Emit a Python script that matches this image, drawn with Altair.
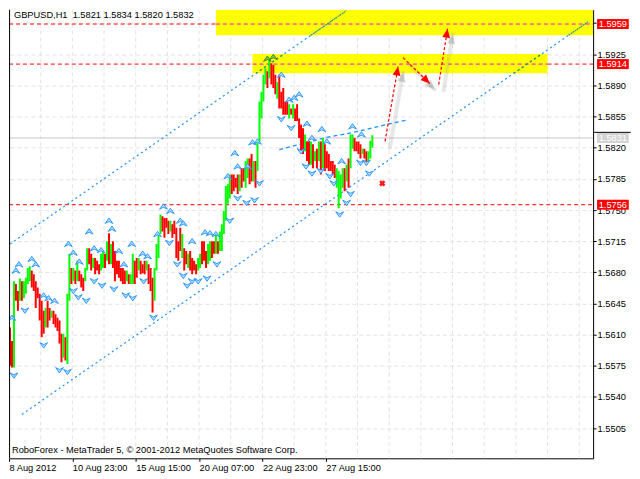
import math
import altair as alt
import pandas as pd

FONT = "Liberation Sans"
FS = 9.3

# ---------------- data ----------------
# H1 candles (bar index 0..183): high, low, direction (1 = up/green, 0 = down/red)
highs = [
    1.5618, 1.5603, 1.5670, 1.5667, 1.5659, 1.5673, 1.5670, 1.5670, 1.5674, 1.5685,
    1.5687, 1.5682, 1.5678, 1.5670, 1.5663, 1.5656, 1.5648, 1.5637, 1.5640, 1.5648,
    1.5640, 1.5637, 1.5637, 1.5633, 1.5629, 1.5626, 1.5611, 1.5611, 1.5607, 1.5656,
    1.5701, 1.5685, 1.5685, 1.5682, 1.5693, 1.5682, 1.5678, 1.5674, 1.5685, 1.5707,
    1.5707, 1.5701, 1.5696, 1.5696, 1.5693, 1.5689, 1.5701, 1.5704, 1.5701, 1.5715,
    1.5724, 1.5712, 1.5715, 1.5704, 1.5693, 1.5693, 1.5685, 1.5685, 1.5682, 1.5682,
    1.5678, 1.5678, 1.5701, 1.5693, 1.5696, 1.5696, 1.5693, 1.5689, 1.5693, 1.5693,
    1.5689, 1.5685, 1.5674, 1.5685, 1.5712, 1.5723, 1.5745, 1.5743, 1.5741, 1.5741,
    1.5738, 1.5738, 1.5734, 1.5738, 1.5730, 1.5715, 1.5730, 1.5723, 1.5707, 1.5704,
    1.5701, 1.5704, 1.5696, 1.5693, 1.5689, 1.5696, 1.5701, 1.5715, 1.5715, 1.5704,
    1.5712, 1.5715, 1.5715, 1.5715, 1.5723, 1.5715, 1.5726, 1.5734, 1.5749, 1.5777,
    1.5779, 1.5790, 1.5790, 1.5790, 1.5786, 1.5790, 1.5790, 1.5797, 1.5797, 1.5805,
    1.5808, 1.5808, 1.5813, 1.5805, 1.5805, 1.5827, 1.5872, 1.5883, 1.5902, 1.5909,
    1.5906, 1.5919, 1.5915, 1.5913, 1.5902, 1.5894, 1.5902, 1.5883, 1.5887, 1.5872,
    1.5872, 1.5869, 1.5864, 1.5869, 1.5864, 1.5869, 1.5853, 1.5846, 1.5842, 1.5835,
    1.5827, 1.5827, 1.5827, 1.5824, 1.5816, 1.5819, 1.5827, 1.5827, 1.5831, 1.5824,
    1.5816, 1.5813, 1.5805, 1.5805, 1.5801, 1.5797, 1.5794, 1.5790, 1.5797, 1.5797,
    1.5801, 1.5808, 1.5835, 1.5835, 1.5831, 1.5827, 1.5827, 1.5824, 1.5819, 1.5819,
    1.5816, 1.5816, 1.5828, 1.5834,
]
lows = [
    1.5575, 1.5573, 1.5573, 1.5648, 1.5637, 1.5648, 1.5648, 1.5651, 1.5656, 1.5667,
    1.5670, 1.5663, 1.5659, 1.5640, 1.5651, 1.5626, 1.5607, 1.5611, 1.5618, 1.5618,
    1.5626, 1.5629, 1.5622, 1.5618, 1.5614, 1.5600, 1.5579, 1.5584, 1.5581, 1.5577,
    1.5648, 1.5667, 1.5670, 1.5667, 1.5670, 1.5670, 1.5663, 1.5659, 1.5670, 1.5682,
    1.5689, 1.5682, 1.5685, 1.5678, 1.5682, 1.5678, 1.5682, 1.5685, 1.5685, 1.5693,
    1.5689, 1.5689, 1.5685, 1.5670, 1.5678, 1.5674, 1.5670, 1.5667, 1.5667, 1.5670,
    1.5667, 1.5667, 1.5667, 1.5667, 1.5674, 1.5682, 1.5678, 1.5679, 1.5678, 1.5682,
    1.5667, 1.5659, 1.5635, 1.5648, 1.5682, 1.5696, 1.5723, 1.5726, 1.5719, 1.5730,
    1.5723, 1.5726, 1.5719, 1.5723, 1.5696, 1.5693, 1.5704, 1.5696, 1.5682, 1.5689,
    1.5685, 1.5682, 1.5678, 1.5682, 1.5678, 1.5682, 1.5685, 1.5689, 1.5693, 1.5685,
    1.5689, 1.5693, 1.5696, 1.5701, 1.5701, 1.5701, 1.5704, 1.5704, 1.5723, 1.5738,
    1.5757, 1.5763, 1.5768, 1.5771, 1.5775, 1.5768, 1.5771, 1.5775, 1.5782, 1.5775,
    1.5786, 1.5779, 1.5782, 1.5782, 1.5775, 1.5794, 1.5827, 1.5853, 1.5872, 1.5891,
    1.5887, 1.5898, 1.5891, 1.5887, 1.5880, 1.5875, 1.5864, 1.5864, 1.5857, 1.5857,
    1.5857, 1.5853, 1.5857, 1.5853, 1.5850, 1.5850, 1.5831, 1.5816, 1.5813, 1.5816,
    1.5805, 1.5801, 1.5801, 1.5797, 1.5805, 1.5797, 1.5805, 1.5790, 1.5797, 1.5794,
    1.5797, 1.5794, 1.5794, 1.5790, 1.5786, 1.5775, 1.5752, 1.5763, 1.5775, 1.5771,
    1.5782, 1.5775, 1.5797, 1.5819, 1.5816, 1.5816, 1.5813, 1.5808, 1.5813, 1.5808,
    1.5801, 1.5805, 1.5808, 1.5820,
]
bull = [
    0, 0, 1, 0, 0, 1, 0, 1, 1, 1,
    1, 0, 0, 0, 0, 0, 0, 0, 1, 0,
    0, 1, 0, 0, 0, 0, 0, 1, 0, 1,
    1, 0, 1, 0, 1, 0, 0, 0, 1, 1,
    0, 0, 1, 0, 0, 0, 1, 1, 0, 1,
    0, 1, 0, 0, 0, 0, 0, 0, 0, 1,
    0, 1, 1, 0, 0, 1, 0, 0, 0, 1,
    0, 0, 0, 1, 1, 1, 1, 0, 0, 0,
    0, 1, 0, 0, 0, 0, 0, 1, 0, 0,
    1, 0, 0, 0, 0, 1, 1, 0, 0, 0,
    1, 1, 0, 0, 1, 0, 1, 1, 1, 1,
    1, 1, 0, 0, 0, 0, 1, 0, 0, 1,
    1, 0, 0, 1, 0, 1, 1, 1, 1, 1,
    0, 1, 0, 0, 0, 1, 0, 0, 0, 0,
    0, 1, 0, 1, 0, 0, 0, 0, 0, 1,
    0, 0, 1, 0, 1, 0, 1, 0, 1, 0,
    0, 0, 0, 0, 0, 1, 1, 1, 1, 0,
    1, 0, 1, 1, 0, 0, 0, 0, 1, 0,
    0, 1, 1, 1,
]

# fractal-like arrow markers
up_idx = [1, 3, 4.5, 11, 13, 17, 19.5, 22.5, 29.5, 32, 35, 40, 42.5, 46, 50, 51.5, 55, 57.5,
          61.5, 67, 69.5, 74.5, 77.5, 81, 86, 87.5, 92, 98.5, 101, 104, 110, 113.5, 115, 120,
          122.5, 125, 130, 133, 137, 141, 143.5, 146, 150, 152.5, 157.5, 160, 167.5, 173, 177.5]
up_price = [1.5629, 1.5682, 1.5689, 1.5695, 1.5689, 1.5654, 1.5651, 1.5648, 1.5712, 1.5702,
            1.5692, 1.5726, 1.5707, 1.5705, 1.5738, 1.5729, 1.5704, 1.5689, 1.5712, 1.5701,
            1.5698, 1.5723, 1.5754, 1.5749, 1.5738, 1.5735, 1.5715, 1.5725, 1.5724, 1.5723,
            1.5788, 1.5814, 1.5799, 1.5799, 1.5826, 1.5827, 1.5920, 1.5922, 1.5902, 1.5874,
            1.5876, 1.5880, 1.5847, 1.5831, 1.5841, 1.5827, 1.5805, 1.5844, 1.5835]
dn_idx = [2, 7.5, 17, 25, 29, 32, 34.5, 38.5, 42.5, 46.5, 52.5, 58.5, 62, 67.5, 72.5, 80.5,
          84.5, 87.5, 89.5, 92, 95, 99.5, 104.5, 111, 115, 119.5, 123.5, 126, 137, 142, 147,
          149.5, 152.5, 157, 161.5, 163.5, 166.5, 170, 172, 177, 180, 181.5]
dn_price = [1.5564, 1.5637, 1.5598, 1.5570, 1.5568, 1.5659, 1.5652, 1.5648, 1.5670, 1.5665,
            1.5661, 1.5654, 1.5651, 1.5670, 1.5629, 1.5713, 1.5689, 1.5676, 1.5665, 1.5670,
            1.5670, 1.5673, 1.5689, 1.5738, 1.5763, 1.5758, 1.5761, 1.5780, 1.5852, 1.5842,
            1.5816, 1.5799, 1.5791, 1.5794, 1.5788, 1.5780, 1.5745, 1.5758, 1.5768, 1.5803,
            1.5803, 1.5791]

price_ticks = [1.5505, 1.5540, 1.5575, 1.5610, 1.5645, 1.5680, 1.5715, 1.5750,
               1.5785, 1.5820, 1.5855, 1.5890, 1.5925, 1.5960]
time_tick_idx = [-0.5, 31.5, 63.5, 95.5, 127.5, 159.5]
time_tick_labels = ["8 Aug 2012", "10 Aug 23:00", "15 Aug 15:00", "20 Aug 07:00",
                    "22 Aug 23:00", "27 Aug 15:00"]
vgrid_idx = [15.5, 31.5, 47.5, 63.5, 79.5, 95.5, 111.5, 127.5, 143.5, 159.5, 175.5,
             191.5, 207.5, 223.5, 239.5, 255.5, 271.5, 287.5]

level_prices = [1.5959, 1.5914, 1.5756]
level_labels = ["1.5959", "1.5914", "1.5756"]
current_price = 1.5831
current_label = "1.5831"

zone_x0 = [104.0, 122.5]
zone_x1 = [294.5, 271.5]
zone_lo = [1.59463, 1.59037]
zone_hi = [1.59750, 1.59254]

chan_x0 = [0.0, 6.0]
chan_y0 = [1.57119, 1.55204]
chan_x1 = [169.9, 292.0]
chan_y1 = [1.59740, 1.59616]

mid_idx = [136, 158.5, 175, 190, 200]
mid_price = [1.5818, 1.5831, 1.5838, 1.5846, 1.5851]

arrow_x0 = [189.4, 198.5, 216.5]
arrow_y0 = [1.58272, 1.59213, 1.58910]
arrow_x1 = [196.0, 212.0, 221.0]
arrow_y1 = [1.59112, 1.58922, 1.59538]

cross_idx = [188]
cross_price = [1.5780]

title_text = "GBPUSD,H1\u00a0 1.5821 1.5834 1.5820 1.5832"
copyright_text = "RoboForex - MetaTrader 5, \u00a9 2001-2012 MetaQuotes Software Corp."

# ---------------- layout / styles ----------------
X_MIN, X_MAX = -0.5, 294.5
Y_MIN, Y_MAX = 1.547109, 1.597506
W, H = 586, 450
PX_X = W / (X_MAX - X_MIN)
PX_Y = H / (Y_MAX - Y_MIN)
RED, MAGENTA, BLUE, OVERLAY_GREEN = "#ff0000", "#ff00ff", "#1e90ff", "#3a9a2a"
LAB_X0, LAB_X1, LAB_TX = 296.5, 312.5, 297.3
LAB_HALF = 5.0 / PX_Y

xs = alt.Scale(domain=[X_MIN, X_MAX], nice=False, zero=False)
ys = alt.Scale(domain=[Y_MIN, Y_MAX], nice=False, zero=False)

expr = ""
for v, lab in zip(time_tick_idx, time_tick_labels):
    expr += f"datum.value == {v} ? '{lab}' : "
expr += "''"

x_axis = alt.Axis(values=time_tick_idx, labelExpr=expr, orient="bottom", grid=False,
                  domainColor="black", tickColor="black", tickSize=3, labelAlign="left",
                  labelFlush=False, labelOverlap=False, labelFont=FONT, labelFontSize=FS,
                  labelColor="black", labelPadding=2, title=None)
y_axis = alt.Axis(values=price_ticks, format=".4f", orient="right", grid=True,
                  gridColor="#e3e3e3", gridDash=[4, 3], domainColor="black",
                  tickColor="black", tickSize=3, labelFont=FONT, labelFontSize=FS,
                  labelColor="black", labelPadding=1, labelOverlap=False,
                  labelFlush=False, title=None)


def ex(f):
    return alt.X(f, type="quantitative", scale=xs, axis=x_axis)


def ey(f):
    return alt.Y(f, type="quantitative", scale=ys, axis=y_axis)


def in_zone(i, p):
    for a, b, lo, hi in zip(zone_x0, zone_x1, zone_lo, zone_hi):
        if a <= i <= b and lo <= p <= hi:
            return True
    return False


def clip_seg(x0, y0, x1, y1, a, b, lo, hi):
    t0, t1 = 0.0, 1.0
    dx, dy = x1 - x0, y1 - y0
    for p, q in ((-dx, x0 - a), (dx, b - x0), (-dy, y0 - lo), (dy, hi - y0)):
        if p == 0:
            if q < 0:
                return None
        else:
            r = q / p
            if p < 0:
                t0 = max(t0, r)
            else:
                t1 = min(t1, r)
    if t0 >= t1:
        return None
    return (x0 + t0 * dx, y0 + t0 * dy, x0 + t1 * dx, y0 + t1 * dy)


# ---------------- tables ----------------
cdf = pd.DataFrame({
    "i": list(range(len(highs))),
    "high": highs,
    "low": lows,
    "col": ["#00ff00" if b else "#ff0000" for b in bull],
})

zdf = pd.DataFrame({"x0": zone_x0, "x1": zone_x1, "lo": zone_lo, "hi": zone_hi})

seg_rows = []
for p in level_prices:
    cuts = sorted((a, b) for a, b, lo, hi in zip(zone_x0, zone_x1, zone_lo, zone_hi) if lo <= p <= hi)
    cur = X_MIN
    for a, b in cuts:
        if a > cur:
            seg_rows.append({"x0": cur, "x1": a, "y": p, "c": RED})
        seg_rows.append({"x0": a, "x1": b, "y": p, "c": MAGENTA})
        cur = b
    if cur < X_MAX:
        seg_rows.append({"x0": cur, "x1": X_MAX, "y": p, "c": RED})
ldf = pd.DataFrame(seg_rows)

chdf = pd.DataFrame({"x0": chan_x0, "y0": chan_y0, "x1": chan_x1, "y1": chan_y1})
ov_rows = []
for x0, y0, x1, y1 in zip(chan_x0, chan_y0, chan_x1, chan_y1):
    for a, b, lo, hi in zip(zone_x0, zone_x1, zone_lo, zone_hi):
        s = clip_seg(x0, y0, x1, y1, a, b, lo, hi)
        if s:
            ov_rows.append({"x0": s[0], "y0": s[1], "x1": s[2], "y1": s[3]})
ovdf = pd.DataFrame(ov_rows)

mdf = pd.DataFrame({"i": mid_idx, "p": mid_price})


def mk(idx, pr):
    return pd.DataFrame({
        "i": idx, "p": pr,
        "f": [("#7cc860" if in_zone(i, p) else "#b4dcff") for i, p in zip(idx, pr)],
        "s": [("#2e8b1e" if in_zone(i, p) else "#1e90ff") for i, p in zip(idx, pr)],
    })


updf = mk(up_idx, up_price)
dndf = mk(dn_idx, dn_price)

ang = []
for x0, y0, x1, y1 in zip(arrow_x0, arrow_y0, arrow_x1, arrow_y1):
    dxp = (x1 - x0) * PX_X
    dyp = -(y1 - y0) * PX_Y
    ang.append(math.degrees(math.atan2(dxp, -dyp)) % 360)
SH_DX, SH_DY = 5.0 / PX_X, -6.0 / PX_Y
adf = pd.DataFrame({
    "x0": arrow_x0, "y0": arrow_y0, "x1": arrow_x1, "y1": arrow_y1, "a": ang,
    "sx0": [v + SH_DX for v in arrow_x0], "sy0": [v + SH_DY for v in arrow_y0],
    "sx1": [v + SH_DX for v in arrow_x1], "sy1": [v + SH_DY for v in arrow_y1],
})

xdf = pd.DataFrame({"i": cross_idx, "p": cross_price})

txdf = pd.DataFrame({
    "i": [2.0, 1.0],
    "p": [1.596610, 1.547750],
    "t": [title_text, copyright_text],
})

labdf = pd.DataFrame({
    "p": level_prices + [current_price],
    "t": level_labels + [current_label],
    "c": [RED, RED, RED, "#d2d2d2"],
})
labdf["lo"] = labdf["p"] - LAB_HALF
labdf["hi"] = labdf["p"] + LAB_HALF
labdf["x0"] = LAB_X0
labdf["x1"] = LAB_X1
labdf["tx"] = LAB_TX

# ---------------- layers ----------------
vgrid = alt.Chart(pd.DataFrame({"x": vgrid_idx})).mark_rule(
    color="#e3e3e3", strokeDash=[4, 3], strokeWidth=1).encode(x=ex("x"))

zones = alt.Chart(zdf).mark_rect(color="#ffff00", clip=True).encode(
    x=ex("x0"), x2="x1", y=ey("lo"), y2="hi")

curline = alt.Chart(pd.DataFrame({"p": [current_price]})).mark_rule(
    color="#c8c8c8", strokeWidth=1).encode(y=ey("p"))

levels = alt.Chart(ldf).mark_rule(strokeDash=[4, 3], strokeWidth=1).encode(
    x=ex("x0"), x2="x1", y=ey("y"), color=alt.Color("c:N", scale=None))

chan = alt.Chart(chdf).mark_rule(color=BLUE, strokeDash=[2, 3], strokeWidth=1.2, clip=True).encode(
    x=ex("x0"), x2="x1", y=ey("y0"), y2="y1")
chan_ov = alt.Chart(ovdf).mark_rule(color=OVERLAY_GREEN, strokeDash=[2, 3], strokeWidth=1.2,
                                    clip=True).encode(x=ex("x0"), x2="x1", y=ey("y0"), y2="y1")

midline = alt.Chart(mdf).mark_line(color=BLUE, strokeDash=[4, 3], strokeWidth=1.3).encode(
    x=ex("i"), y=ey("p"))

candles = alt.Chart(cdf).mark_rule(strokeWidth=2, strokeCap="butt", clip=True).encode(
    x=ex("i"), y=ey("low"), y2="high", color=alt.Color("col:N", scale=None))

UP_SHAPE = "M0,-0.7L1,0.7L0,0.2L-1,0.7Z"
DN_SHAPE = "M0,0.7L1,-0.7L0,-0.2L-1,-0.7Z"
HEAD_SHAPE = "M0,0L0.8,1.8L-0.8,1.8Z"

ups = alt.Chart(updf).mark_point(shape=UP_SHAPE, filled=True, size=60, strokeWidth=0.9,
                                 opacity=1, clip=True).encode(
    x=ex("i"), y=ey("p"), fill=alt.Fill("f:N", scale=None), stroke=alt.Stroke("s:N", scale=None))
dns = alt.Chart(dndf).mark_point(shape=DN_SHAPE, filled=True, size=60, strokeWidth=0.9,
                                 opacity=1, clip=True).encode(
    x=ex("i"), y=ey("p"), fill=alt.Fill("f:N", scale=None), stroke=alt.Stroke("s:N", scale=None))

ashadow = alt.Chart(adf).mark_rule(color="#8a8a8a", strokeWidth=4, opacity=0.2,
                                   strokeCap="round").encode(
    x=ex("sx0"), x2="sx1", y=ey("sy0"), y2="sy1")
ahead_sh = alt.Chart(adf).mark_point(shape=HEAD_SHAPE, filled=True, size=110, color="#707070",
                                     opacity=0.3).encode(
    x=ex("sx1"), y=ey("sy1"), angle=alt.Angle("a:Q", scale=None))
aline = alt.Chart(adf).mark_rule(color=RED, strokeDash=[3, 2], strokeWidth=1.2).encode(
    x=ex("x0"), x2="x1", y=ey("y0"), y2="y1")
ahead = alt.Chart(adf).mark_point(shape=HEAD_SHAPE, filled=True, size=100, color=RED,
                                  opacity=1).encode(
    x=ex("x1"), y=ey("y1"), angle=alt.Angle("a:Q", scale=None))

cross = alt.Chart(xdf).mark_point(shape="cross", angle=45, filled=True, size=40, color="#ff1a1a",
                                  opacity=1).encode(x=ex("i"), y=ey("p"))

texts = alt.Chart(txdf).mark_text(align="left", baseline="alphabetic", font=FONT, fontSize=FS,
                                  color="black").encode(x=ex("i"), y=ey("p"), text="t:N")

lborder = alt.Chart(pd.DataFrame({"x": [X_MIN + 0.3]})).mark_rule(
    color="black", strokeWidth=1).encode(x=ex("x"))

labbox = alt.Chart(labdf).mark_rect().encode(
    x=ex("x0"), x2="x1", y=ey("lo"), y2="hi", color=alt.Color("c:N", scale=None))
labtxt = alt.Chart(labdf).mark_text(align="left", baseline="middle", font=FONT, fontSize=FS,
                                    color="white").encode(x=ex("tx"), y=ey("p"), text="t:N")
blk = alt.Chart(pd.DataFrame({"x0": [295.0], "x1": [313.5], "p": [1.583731]})).mark_rule(
    color="black", strokeWidth=1).encode(x=ex("x0"), x2="x1", y=ey("p"))

chart = alt.layer(
    vgrid, zones, curline, levels, chan, chan_ov, midline, candles, ups, dns,
    ashadow, ahead_sh, aline, ahead, cross, texts, lborder, labbox, labtxt, blk,
).properties(width=W, height=H, padding=0, background="white").configure_view(stroke=None)

chart.save("out.html", embed_options={"renderer": "svg", "actions": False})
